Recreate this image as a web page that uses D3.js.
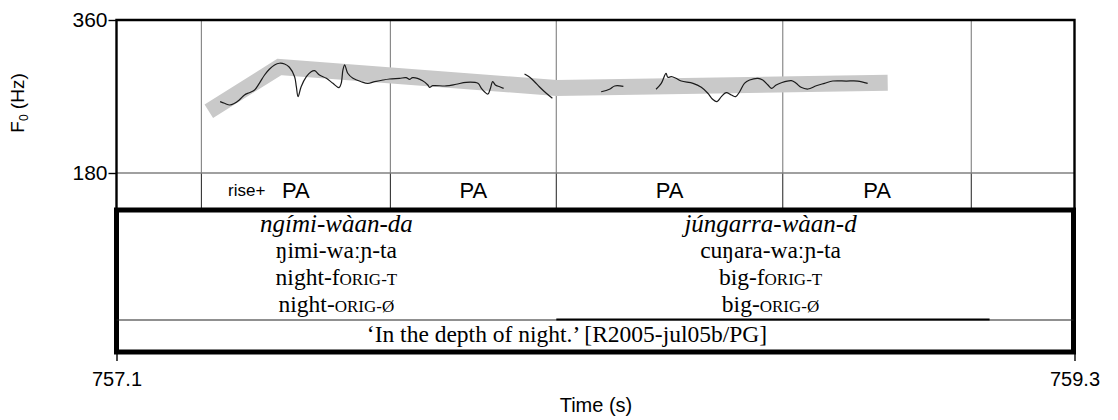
<!DOCTYPE html>
<html><head><meta charset="utf-8">
<script src="https://cdn.jsdelivr.net/npm/d3@7"></script>
<style>
html,body{margin:0;padding:0;background:#fff;}
svg{display:block;}
.sans{font-family:"Liberation Sans",Arial,sans-serif;}
.serif{font-family:"Liberation Serif","DejaVu Serif",serif;}
</style></head>
<body>
<svg id="c" width="1118" height="420"></svg>
<script>
// ---- data ----
const timeDomain = [757.1, 759.3];
const hzDomain = [180, 360];
const xTicks = [757.1, 759.3];
const yTicks = [180, 360];

// tier interval boundaries (s) and labels
const tierBounds = [757.295, 757.729, 758.110, 758.630, 759.063];
const tierLabels = ["PA", "PA", "PA", "PA"];
const riseLabel = "rise+";
const riseTime = 757.399;

// stylised contour (grey band)
const stylT = [757.312, 757.474, 758.110, 758.871];
const stylHz = [252.6, 304.7, 280.0, 286.1];

// F0 trace segments [time, Hz]
const f0Seg1 = [
 [757.338,263.9],[757.348,262.0],[757.360,260.0],[757.371,262.0],[757.382,265.9],[757.394,271.8],
 [757.405,274.5],[757.417,277.6],[757.428,285.5],[757.440,295.3],[757.451,302.0],[757.463,307.1],
 [757.474,309.1],[757.486,308.2],[757.497,304.4],[757.509,293.3],[757.513,281.5],[757.517,269.8],
 [757.524,281.5],[757.536,293.3],[757.547,299.2],[757.555,300.4],[757.566,295.3],[757.582,291.4],
 [757.597,285.5],[757.611,280.4],[757.616,285.5],[757.620,301.2],[757.624,307.1],[757.631,297.3],
 [757.643,291.4],[757.662,287.4],[757.677,285.5],[757.693,287.4],[757.712,289.4],[757.727,290.6],
 [757.750,291.4],[757.765,292.1],[757.773,290.2],[757.780,292.1],[757.803,288.6],[757.815,283.5],
 [757.819,280.8],[757.826,282.7],[757.857,282.4],[757.880,284.4],[757.903,286.7],[757.930,285.5],
 [757.938,279.6],[757.945,275.6],[757.953,272.9],[757.958,278.5],[757.964,287.4],[757.970,283.5],
 [757.980,281.5],[757.989,279.6]
];
const f0Seg2 = [
 [758.037,296.5],[758.049,292.6],[758.060,287.4],[758.071,281.5],[758.087,273.8],[758.101,267.9]
];
const f0Seg3 = [
 [758.213,275.6],[758.232,278.5],[758.244,282.4],[758.264,282.0]
];
const f0Seg4 = [
 [758.339,278.5],[758.351,285.5],[758.362,297.3],[758.366,292.6],[758.374,293.3],[758.385,291.4],
 [758.397,288.2],[758.424,285.5],[758.443,280.8],[758.458,273.8],[758.469,266.7],[758.479,263.9],
 [758.489,269.8],[758.500,274.5],[758.512,271.8],[758.522,269.8],[758.531,275.6],[758.542,285.5],
 [758.554,289.4],[758.573,291.4],[758.584,289.4],[758.596,283.5],[758.604,279.6],[758.615,283.5],
 [758.627,286.2],[758.650,288.6],[758.661,285.5],[758.672,280.8],[758.688,278.8],[758.707,282.7],
 [758.726,285.5],[758.745,288.2],[758.776,288.2],[758.802,288.2],[758.825,285.5]
];

// interlinear text
const wordTimes = [757.605, 758.602];
const orthLine = ["ngími-wàan-da", "júngarra-wàan-d"];
const phonLine = ["ŋimi-waːɲ-ta", "cuŋara-waːɲ-ta"];
const gloss1Stem = ["night-f", "big-f"];
const gloss1Caps = ["ORIG-T", "ORIG-T"];
const gloss2Stem = ["night-", "big-"];
const gloss2Caps = ["ORIG-Ø", "ORIG-Ø"];
const wordSpan2 = [758.110, 759.105];
const translation = "‘In the depth of night.’ [R2005-jul05b/PG]";

// ---- drawing ----
const svg = d3.select("#c");
const L = 116.5, R = 1074.5, T = 20, B180 = 173, tierB = 208;
const boxT = 210, boxB = 352, sepY = 320;

const x = d3.scaleLinear().domain(timeDomain).range([L, R]);
const y = d3.scaleLinear().domain(hzDomain).range([B180, T]);

// gridlines (pitch area)
svg.append("g").selectAll("line").data(tierBounds).join("line")
  .attr("x1", d => x(d)).attr("x2", d => x(d))
  .attr("y1", T).attr("y2", B180)
  .attr("stroke", "#8a8a8a").attr("stroke-width", 1.2);
// gridlines (tier)
svg.append("g").selectAll("line").data(tierBounds).join("line")
  .attr("x1", d => x(d)).attr("x2", d => x(d))
  .attr("y1", B180).attr("y2", tierB)
  .attr("stroke", "#333").attr("stroke-width", 1.1);

// band
const band = stylT.map((t, i) => [t, stylHz[i]]);
const line = d3.line().x(d => x(d[0])).y(d => y(d[1]));
svg.append("path").attr("d", line(band))
  .attr("fill", "none").attr("stroke", "#c9c9c9").attr("stroke-width", 16)
  .attr("stroke-linecap", "butt").attr("stroke-linejoin", "miter");

// F0 trace
[f0Seg1, f0Seg2, f0Seg3, f0Seg4].forEach(seg => {
  svg.append("path").attr("d", line.curve(d3.curveCatmullRom)(seg))
    .attr("fill", "none").attr("stroke", "#1a1a1a").attr("stroke-width", 1.2);
});

// horizontal separator between pitch and tier
svg.append("line").attr("x1", L).attr("x2", R).attr("y1", B180).attr("y2", B180)
  .attr("stroke", "#808080").attr("stroke-width", 1.6);

// tier labels
const mids = tierLabels.map((l, i) => (tierBounds[i] + tierBounds[i + 1]) / 2);
svg.append("g").selectAll("text").data(tierLabels).join("text")
  .attr("class", "sans").attr("x", (d, i) => x(mids[i])).attr("y", 198)
  .attr("text-anchor", "middle").attr("font-size", 22).attr("fill", "#000").text(d => d);
svg.append("text").attr("class", "sans").attr("x", x(riseTime)).attr("y", 196)
  .attr("text-anchor", "middle").attr("font-size", 17).text(riseLabel);

// frame of pitch area
svg.append("path")
  .attr("d", `M${L},${tierB} L${L},${T} L${R},${T} L${R},${tierB}`)
  .attr("fill", "none").attr("stroke", "#000").attr("stroke-width", 2.4);

// text box
svg.append("rect").attr("x", L).attr("y", boxT).attr("width", R - L - 1).attr("height", boxB - boxT)
  .attr("fill", "none").attr("stroke", "#000").attr("stroke-width", 5);
svg.append("line").attr("x1", L).attr("x2", R - 1).attr("y1", sepY).attr("y2", sepY)
  .attr("stroke", "#222").attr("stroke-width", 1.2);
svg.append("line").attr("x1", x(wordSpan2[0])).attr("x2", x(wordSpan2[1])).attr("y1", sepY - 0.5).attr("y2", sepY - 0.5)
  .attr("stroke", "#000").attr("stroke-width", 2.2);

// interlinear lines
const tg = svg.append("g").attr("class", "serif").attr("font-size", 23.5).attr("text-anchor", "middle");
tg.selectAll("text.o").data(orthLine).join("text").attr("class", "o")
  .attr("x", (d, i) => x(wordTimes[i])).attr("y", 232).attr("font-style", "italic")
  .attr("font-size", 25).text(d => d);
tg.selectAll("text.p").data(phonLine).join("text").attr("class", "p")
  .attr("x", (d, i) => x(wordTimes[i])).attr("y", 258).text(d => d);
const g1 = tg.selectAll("text.g1").data(gloss1Stem).join("text").attr("class", "g1")
  .attr("x", (d, i) => x(wordTimes[i])).attr("y", 285);
g1.append("tspan").text(d => d);
g1.append("tspan").attr("font-size", 17).text((d, i) => gloss1Caps[i]);
const g2 = tg.selectAll("text.g2").data(gloss2Stem).join("text").attr("class", "g2")
  .attr("x", (d, i) => x(wordTimes[i])).attr("y", 312);
g2.append("tspan").text(d => d);
g2.append("tspan").attr("font-size", 17).text((d, i) => gloss2Caps[i]);
tg.append("text").attr("x", 567).attr("y", 342).text(translation);

// axes
const xAxis = d3.axisBottom(x).tickValues(xTicks).tickSize(7).tickFormat(d3.format(".1f"));
const gx = svg.append("g").attr("transform", `translate(0,${boxB + 2})`).call(xAxis);
gx.select(".domain").remove();
gx.selectAll("line").attr("stroke", "#000").attr("stroke-width", 1.4);
gx.selectAll("text").attr("class", "sans").attr("font-size", 20).attr("dy", "1.1em").attr("fill", "#000");

const yAxis = d3.axisLeft(y).tickValues(yTicks).tickSize(8);
const gy = svg.append("g").attr("transform", `translate(${L},0)`).call(yAxis);
gy.select(".domain").remove();
gy.selectAll("line").attr("stroke", "#000").attr("stroke-width", 1.4);
gy.selectAll("text").attr("class", "sans").attr("font-size", 21).attr("x", -9).attr("fill", "#000");

svg.append("text").attr("class", "sans").attr("font-size", 20).attr("text-anchor", "middle")
  .attr("x", 596).attr("y", 412).text("Time (s)");
const yl = svg.append("text").attr("class", "sans").attr("font-size", 19).attr("text-anchor", "middle")
  .attr("transform", "translate(24,103) rotate(-90)");
yl.append("tspan").text("F");
yl.append("tspan").attr("font-size", 12).attr("dy", 4).text("0");
yl.append("tspan").attr("dy", -4).text(" (Hz)");
</script>
</body></html>
